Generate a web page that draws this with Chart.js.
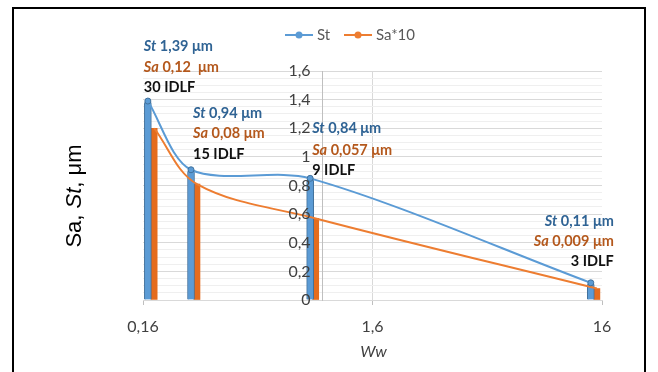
<!DOCTYPE html>
<html><head><meta charset="utf-8">
<script src="https://cdn.jsdelivr.net/npm/chart.js@4/dist/chart.umd.min.js"></script>
<style>
html,body{margin:0;padding:0;background:#fff;overflow:hidden}
#wrap{position:relative;width:658px;height:372px;background:#fff}
#frame{position:absolute;left:12px;top:7px;width:634px;height:400px;border:2px solid #000;box-sizing:border-box;pointer-events:none}
canvas{position:absolute;left:0;top:0}
</style></head><body>
<div id="wrap"><canvas id="c" width="658" height="372"></canvas><div id="frame"></div></div>
<script>
// ---- data ----
const wwSt = [0.168, 0.259, 0.856, 14.3];
const wwSa = [0.179, 0.275, 0.905, 15.2];
const stValues = [1.39, 0.91, 0.85, 0.12];
const sa10Values = [1.20, 0.81, 0.57, 0.08];
const stLabels = ['1,39 μm', '0,94 μm', '0,84 μm', '0,11 μm'];
const saLabels = ['0,12  μm', '0,08 μm', '0,057 μm', '0,009 μm'];
const idlfLabels = ['30 IDLF', '15 IDLF', '9 IDLF', '3 IDLF'];
const xTicks = [0.16, 1.6, 16];
const yMajorTicks = [0, 0.2, 0.4, 0.6, 0.8, 1, 1.2, 1.4, 1.6];
const yAxisCrossAt = 0.97;
const seriesNames = ['St', 'Sa*10'];

// ---- styles ----
const FONT = 'Lato, "Open Sans", sans-serif';
const BLUE = '#5b9bd5', BLUE_DARK = '#41719c', ORANGE = '#ed7d31', ORANGE_BAR = '#e46c1e';
const BLUE_TXT = '#2f6394', ORANGE_TXT = '#b4581c', BLACK_TXT = '#111';
const labelOffsets = [
  {dx: -4, dy: [-55, -34, -14], align: 'left'},
  {dx: 2, dy: [-56, -36, -15], align: 'left'},
  {dx: 2, dy: [-50, -28, -8], align: 'left'},
  {dx: 23, dy: [-61, -41, -21], align: 'right'}
];
const fmt = v => String(Math.round(v * 100) / 100).replace('.', ',');
const isMajor = v => yMajorTicks.some(t => Math.abs(t - v) < 1e-6);

function drawRich(ctx, parts, x, y, align, color) {
  ctx.fillStyle = color;
  ctx.textBaseline = 'middle';
  ctx.textAlign = 'left';
  let total = 0;
  parts.forEach(p => { ctx.font = p[1]; total += ctx.measureText(p[0]).width; });
  let cx = align === 'right' ? x - total : (align === 'center' ? x - total / 2 : x);
  parts.forEach(p => { ctx.font = p[1]; ctx.fillText(p[0], cx, y); cx += ctx.measureText(p[0]).width; });
}

const annotPlugin = {
  id: 'annot',
  afterDraw(chart) {
    const {ctx, scales: {x, y}} = chart;
    ctx.save();
    // y tick labels, left of the crossing axis
    const ax = x.getPixelForValue(yAxisCrossAt);
    yMajorTicks.forEach(v => drawRich(ctx, [[fmt(v), '16px ' + FONT]], ax - 12, y.getPixelForValue(v), 'right', '#404040'));
    const bi = 'italic bold 14.5px ' + FONT, b = 'bold 14.5px ' + FONT;
    for (let i = 0; i < wwSt.length; i++) {
      const px = x.getPixelForValue(wwSt[i]), py = y.getPixelForValue(stValues[i]);
      const o = labelOffsets[i];
      drawRich(ctx, [['St', bi], [' ' + stLabels[i], b]], px + o.dx, py + o.dy[0], o.align, BLUE_TXT);
      drawRich(ctx, [['Sa', bi], [' ' + saLabels[i], b]], px + o.dx, py + o.dy[1], o.align, ORANGE_TXT);
      drawRich(ctx, [[idlfLabels[i], b]], px + o.dx, py + o.dy[2], o.align, BLACK_TXT);
    }
    // legend
    const ly = 35;
    const items = [{c: BLUE, x0: 285, name: seriesNames[0]}, {c: ORANGE, x0: 344, name: seriesNames[1]}];
    items.forEach(it => {
      ctx.strokeStyle = it.c; ctx.lineWidth = 2;
      ctx.beginPath(); ctx.moveTo(it.x0, ly); ctx.lineTo(it.x0 + 28, ly); ctx.stroke();
      ctx.fillStyle = it.c; ctx.beginPath(); ctx.arc(it.x0 + 14, ly, 3.5, 0, Math.PI * 2); ctx.fill();
      drawRich(ctx, [[it.name, '15px ' + FONT]], it.x0 + 32, ly, 'left', '#595959');
    });
    // y title
    ctx.save();
    ctx.translate(75, 196);
    ctx.rotate(-Math.PI / 2);
    const tf = '22px "Liberation Sans", Arial, sans-serif', tfi = 'italic 22px "Liberation Sans", Arial, sans-serif';
    drawRich(ctx, [['Sa, ', tf], ['St', tfi], [', μm', tf]], 0, 0, 'center', '#000');
    ctx.restore();
    // x title
    drawRich(ctx, [['Ww', 'italic 16px ' + FONT]], (chart.chartArea.left + chart.chartArea.right) / 2 + 1, 352, 'center', '#404040');
    ctx.restore();
  }
};

const ctx = document.getElementById('c').getContext('2d');
new Chart(ctx, {
  type: 'bar',
  data: {
    datasets: [
      {type: 'line', label: seriesNames[0], data: wwSt.map((v, i) => ({x: v, y: stValues[i]})),
       borderColor: BLUE, backgroundColor: BLUE, borderWidth: 2, tension: 0.3,
       pointRadius: 3, pointBorderWidth: 1, pointBorderColor: BLUE_DARK, pointBackgroundColor: BLUE, order: 1},
      {type: 'line', label: seriesNames[1], data: wwSa.map((v, i) => ({x: v, y: sa10Values[i]})),
       borderColor: ORANGE, backgroundColor: ORANGE, borderWidth: 2, tension: 0.35, pointRadius: 0, order: 1},
      {type: 'bar', label: 'St bars', data: wwSt.map((v, i) => ({x: v, y: stValues[i]})),
       backgroundColor: BLUE, borderColor: BLUE_DARK, borderWidth: 1, barThickness: 7, grouped: false,
       borderRadius: {topLeft: 3, topRight: 3, bottomLeft: 0, bottomRight: 0}, borderSkipped: 'bottom', order: 2},
      {type: 'bar', label: 'Sa bars', data: wwSa.map((v, i) => ({x: v, y: sa10Values[i]})),
       backgroundColor: ORANGE_BAR, barThickness: 6, grouped: false, order: 2}
    ]
  },
  options: {
    responsive: false, animation: false,
    layout: {padding: {left: 143, right: 56, top: 71, bottom: 0}},
    plugins: {legend: {display: false}, tooltip: {enabled: false}},
    scales: {
      x: {
        type: 'logarithmic', min: 0.16, max: 16, offset: false,
        afterBuildTicks: s => { s.ticks = xTicks.map(v => ({value: v})); },
        afterFit: s => { s.height = 72; },
        grid: {offset: false, color: c => (c.tick && Math.abs(c.tick.value - 1.6) < 1e-6) ? '#d9d9d9' : 'rgba(0,0,0,0)',
               tickColor: '#bfbfbf', tickLength: 5},
        border: {color: '#d9d9d9', width: 1},
        ticks: {callback: v => fmt(v), font: {family: FONT, size: 16}, color: '#404040', padding: 12, maxRotation: 0, autoSkip: false}
      },
      y: {
        position: {x: yAxisCrossAt}, min: 0, max: 1.6,
        ticks: {stepSize: 0.05, autoSkip: false, display: false},
        grid: {color: c => isMajor(c.tick.value) ? '#d9d9d9' : '#efefef', drawTicks: false},
        border: {color: '#bfbfbf'}
      }
    }
  },
  plugins: [annotPlugin]
});
</script>
</body></html>
